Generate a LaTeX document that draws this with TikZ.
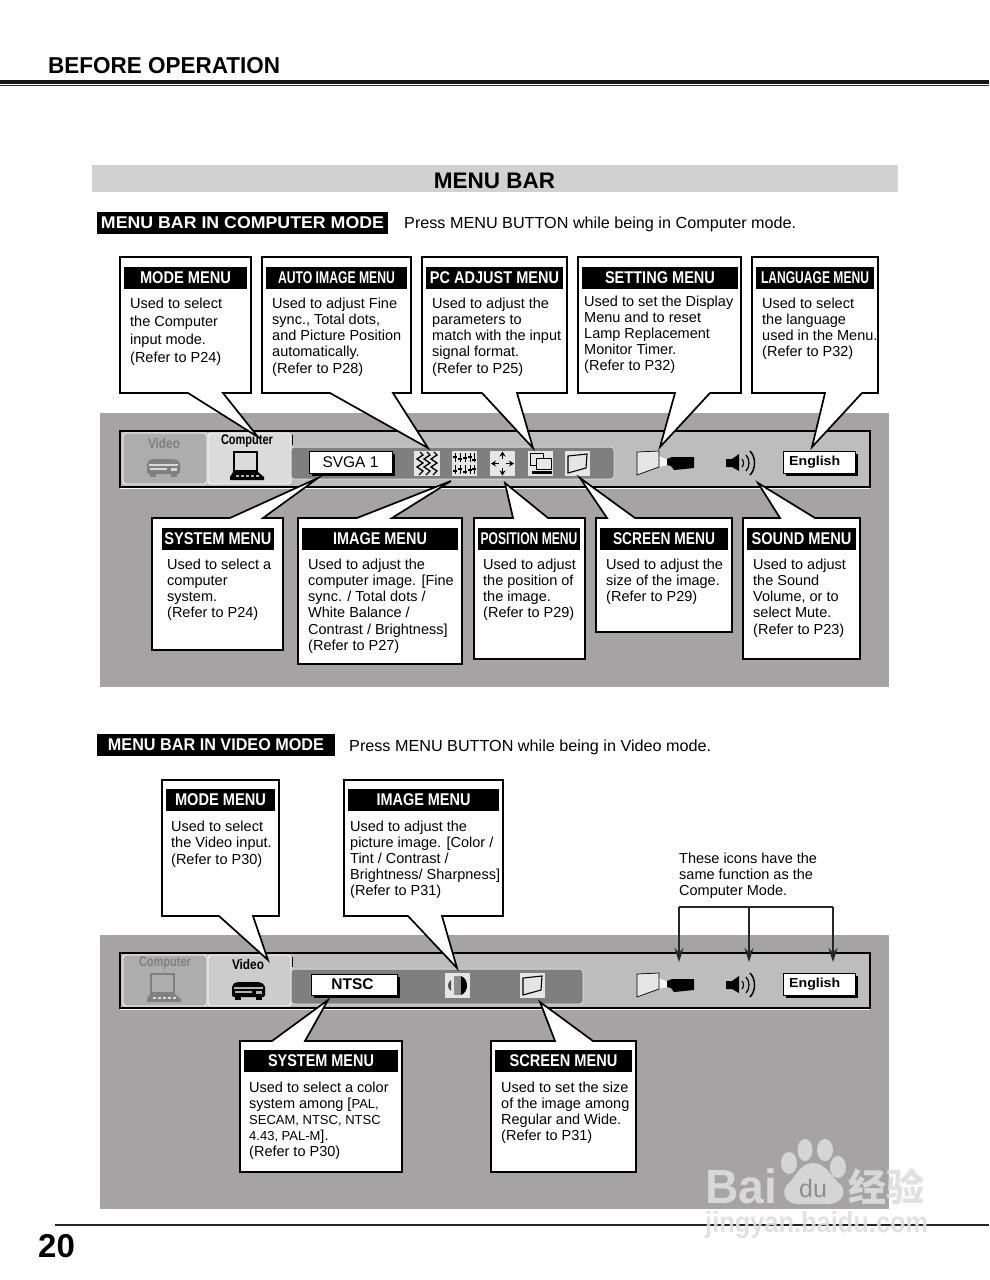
\documentclass[tikz,border=0pt]{standalone}
\usepackage{fontspec}
\usepackage{graphicx}
\setmainfont{Liberation Sans}
\newfontfamily\cjkfont{Noto Sans CJK SC}
\usetikzlibrary{arrows.meta}
\definecolor{panelgray}{HTML}{A5A3A4}
\definecolor{bargray}{HTML}{BDBDBD}
\definecolor{innergray}{HTML}{7F7F7F}
\definecolor{iconbg}{HTML}{E6E6E6}
\definecolor{wmark}{HTML}{DEDEDE}
\tikzset{
  callout/.style={draw=black,fill=white,line width=1.7pt,line join=miter},
  hdr/.style={fill=black,text=white,inner sep=0pt,font=\fontsize{17}{17}\selectfont\bfseries},
  bodytxt/.style={anchor=north west,inner sep=0pt,align=left},
  panel/.style={fill=panelgray,draw=none},
  menubar/.style={fill=bargray,draw=black,line width=1.2pt},
  ink/.style={draw=black,line width=1.1pt},
  tabtxt/.style={inner sep=0pt,font=\fontsize{14}{14}\selectfont\bfseries},
  fieldbox/.style={fill=white,draw=black,line width=.6pt,inner sep=0pt},
  note/.style={-{Stealth[length=14pt,width=9pt]},line width=1.4pt,draw=black!85},
  wm/.style={inner sep=0pt,text=wmark,text opacity=.9}
}
% box with a tail on its lower side
\newcommand{\calloutB}[8]{\draw[callout] (#1,#2)--(#3,#2)--(#3,#4)--(#6,#4)--(#7,#8)--(#5,#4)--(#1,#4)--cycle;}
% box with a tail on its upper side
\newcommand{\calloutT}[8]{\draw[callout] (#1,#2)--(#5,#2)--(#7,#8)--(#6,#2)--(#3,#2)--(#3,#4)--(#1,#4)--cycle;}
% header: name, x1, y1, x2, y2, text width, text
\newcommand{\hdrbar}[7]{\node[hdr,minimum width={(#4-#2)*1pt},minimum height={(#5-#3)*1pt}] (#1) at ({(#2+#4)/2},{(#3+#5)/2}) {\raisebox{-.8pt}{\resizebox{#6pt}{\height}{#7}}};}
% body: name, x, first baseline, line skip, text
\newcommand{\bodyblock}[5]{\node[bodytxt,font=\fontsize{14.5}{#4}\selectfont] (#1) at (#2,{#3-11}) {\rule{0pt}{11pt}#5};}
\newcommand{\smalltxt}[1]{{\fontsize{13}{16}\selectfont #1}}
% icons
\newcommand{\vcricon}[3]{\begin{scope}[shift={(#1,#2)}]
  \fill[#3,rounded corners=2pt] (0,3)--(4,0)--(28,0)--(33,3)--(33,15)--(0,15)--cycle;
  \fill[white!70!#3] (2,5) rectangle (31,6.5);
  \fill[white!70!#3] (3,9) rectangle (20,11);
  \fill[white!70!#3] (24,9) rectangle (30,12);
  \fill[#3] (3,15) rectangle (9,18); \fill[#3] (24,15) rectangle (30,18);
\end{scope}}
\newcommand{\monicon}[3]{\begin{scope}[shift={(#1,#2)}]
  \draw[#3,line width=2pt] (4,1) rectangle (27,20);
  \fill[#3] (3,21)--(28,21)--(34,26)--(34,29)--(0,29)--(0,26)--cycle;
  \foreach \k in {6,11,16,21,26} \fill[white!70!#3] (\k,24) rectangle +(3,1.5);
\end{scope}}
\newcommand{\projicon}[2]{\begin{scope}[shift={(#1,#2)}]
  \fill[white!85!bargray] (22,5)--(31,9)--(31,14)--(22,16)--cycle;
  \draw[fill=iconbg,draw=black,line width=.7pt] (0,1)--(22,0)--(22,16)--(0,24)--cycle;
  \fill[black] (30,8)--(35,6)--(57,6)--(57,17)--(37,19)--(34,15)--(30,14)--cycle;
\end{scope}}
\newcommand{\spkicon}[2]{\begin{scope}[shift={(#1,#2)}]
  \fill[black] (0,5)--(6,5)--(13,0)--(13,17)--(6,13)--(0,13)--cycle;
  \draw[black,line width=1.1pt] (16,5) .. controls (18,7) and (18,11) .. (16,13);
  \draw[black,line width=1.3pt] (20,1) .. controls (24,5) and (24,13) .. (20,17);
  \draw[black,line width=1.5pt] (24,-3) .. controls (30,3) and (30,15) .. (24,21);
\end{scope}}
\newcommand{\scrnicon}[2]{\begin{scope}[shift={(#1,#2)}]
  \fill[iconbg] (0,0) rectangle (25,25);
  \draw[ink,fill=white!90!black] (3,5)--(22,3)--(21,17)--(3,22)--cycle;
\end{scope}}
\newcommand{\engbox}[3]{%
  \fill[black] (783+3,#2+3) rectangle (855+3,#2+25);
  \node[fieldbox,minimum width=72pt,minimum height=22pt,anchor=north west] (#1) at (783,#2) {};
  \node[inner sep=0pt,font=\fontsize{13}{13}\selectfont\bfseries,anchor=west] (#3) at (789,#2+11) {\resizebox{51pt}{\height}{English}};
}
\begin{document}
\begin{tikzpicture}[x=1pt,y=-1pt]
\useasboundingbox (0,0) rectangle (989,1280);
\fill[white] (0,0) rectangle (989,1280);
% page head
\node[inner sep=0pt,anchor=base west,font=\fontsize{23}{23}\selectfont\bfseries] (title) at (48,73.5) {\resizebox{232pt}{\height}{BEFORE OPERATION}};
\fill[black!90] (0,79.5) rectangle (989,83.5);
\fill[black!80] (0,85) rectangle (989,86.2);
\fill[black!18] (92,165) rectangle (898,192);
\node[inner sep=0pt,font=\fontsize{22.5}{24}\selectfont\bfseries] (mbtitle) at (494.5,181) {MENU BAR};
\hdrbar{compbar}{97}{212}{388}{234}{283}{MENU BAR IN COMPUTER MODE}
\node[inner sep=0pt,anchor=base west,font=\fontsize{16}{16}\selectfont] (comppress) at (404,228.5) {\resizebox{392pt}{\height}{Press MENU BUTTON while being in Computer mode.}};
\hdrbar{vidbar}{97}{734}{335}{756}{216}{MENU BAR IN VIDEO MODE}
\node[inner sep=0pt,anchor=base west,font=\fontsize{16}{16}\selectfont] (vidpress) at (349,751) {\resizebox{362pt}{\height}{Press MENU BUTTON while being in Video mode.}};
% panels
\fill[panelgray] (100,413) rectangle (889,687);
\fill[panelgray] (100,935) rectangle (889,1209);
% ---- computer bar
\draw[menubar] (120,431) rectangle (870,487);
\draw[white,line width=1pt] (120,488.5)--(870,488.5);
\draw[white,line width=.8pt,rounded corners=3pt,fill=black!32] (123,433) rectangle (207,484);
\draw[white,line width=.8pt,rounded corners=3pt,fill=black!14] (208,433) rectangle (291,484);
\draw[black,line width=.8pt] (292,435)--(292,445);
\draw[white!85!black,line width=1pt,rounded corners=3pt,fill=innergray] (291,447) rectangle (614,479);
\node[tabtxt,text=black!50] (tv1) at (164,443) {\resizebox{32pt}{\height}{Video}};
\node[tabtxt] (tc1) at (247,441) {\resizebox{52pt}{\height}{Computer}};
\vcricon{147}{459}{black!50}
\monicon{230}{451}{black}
\fill[black] (312,454) rectangle (395,476);
\node[fieldbox,minimum width=83pt,minimum height=22pt] (svga) at (350.5,462) {\fontsize{15.5}{16}\selectfont SVGA 1};
% wave icon
\fill[iconbg] (414,451) rectangle (440,476);
\foreach \cx in {420,427,434}
  \draw[ink,line width=1.3pt] (\cx,452)--(\cx+3,455)--(\cx-3,459)--(\cx+3,463)--(\cx-3,467)--(\cx+3,471)--(\cx-1,475);
% slider icon
\fill[iconbg] (452,451) rectangle (477,476);
\foreach \cx/\da/\db in {455/3/5,460/5/3,465/4/6,470/3/4,474/6/3}{
  \draw[black,line width=.9pt] (\cx,453)--(\cx,462);
  \fill[black] (\cx-1.6,453+\da) rectangle +(3.2,2);
  \draw[black,line width=.9pt] (\cx,465)--(\cx,474);
  \fill[black] (\cx-1.6,465+\db) rectangle +(3.2,2);
}
% position icon
\fill[iconbg] (490,451) rectangle (515,476);
\draw[black,line width=1.5pt,{Stealth[length=5pt,width=6pt]}-] (491,463.5)--(499,463.5);
\draw[black,line width=1.5pt,-{Stealth[length=5pt,width=6pt]}] (506,463.5)--(514,463.5);
\draw[black,line width=1.5pt,{Stealth[length=5pt,width=6pt]}-] (502.5,451.5)--(502.5,459);
\draw[black,line width=1.5pt,-{Stealth[length=5pt,width=6pt]}] (502.5,468)--(502.5,475.5);
% setting window icon
\fill[iconbg] (528,451) rectangle (553,476);
\draw[black,line width=.8pt,fill=iconbg] (530,453) rectangle (543,465);
\draw[black,line width=.8pt,fill=iconbg] (536,458) rectangle (551,469);
\fill[black] (532,471) rectangle (552,473.5);
\scrnicon{565}{451}
\projicon{637}{451}
\spkicon{726}{454}
\engbox{eng1}{451}{engt1}
% ---- video bar
\draw[menubar] (120,953) rectangle (870,1008);
\draw[white,line width=1pt] (120,1009.5)--(870,1009.5);
\draw[white,line width=.8pt,rounded corners=3pt,fill=black!32] (123,955) rectangle (207,1006);
\draw[white,line width=.8pt,rounded corners=3pt,fill=black!20] (208,955) rectangle (291,1006);
\draw[black,line width=.8pt] (292,957)--(292,967);
\draw[white!85!black,line width=1pt,rounded corners=3pt,fill=innergray] (291,969) rectangle (583,1004);
\node[tabtxt,text=black!50] (tc2) at (165,963) {\resizebox{52pt}{\height}{Computer}};
\node[tabtxt] (tv2) at (248,964) {\resizebox{32pt}{\height}{Video}};
\monicon{147}{973}{black!50}
\vcricon{232}{982}{black}
\fill[black] (314,977) rectangle (400,998);
\node[fieldbox,minimum width=86pt,minimum height=21pt] (ntsc) at (354,984.5) {\hspace{-3pt}\fontsize{15.5}{16}\selectfont\bfseries NTSC};
% contrast icon
\fill[iconbg] (445,973) rectangle (470,998);
\fill[black!45] (454,976) rectangle (461,995);
\fill[black] (461,976)..controls (469,979) and (469,992)..(461,995)--cycle;
\fill[black!70] (451,980)..controls (447,983) and (447,988)..(451,991)--cycle;
\scrnicon{520}{973}
\projicon{637}{973}
\spkicon{726}{976}
\engbox{eng2}{973}{engt2}
% ---- computer-mode callouts
\calloutB{120}{257}{251}{393}{188}{223}{258}{437}
\hdrbar{hmode}{124}{267}{247}{289}{91}{MODE MENU}
\bodyblock{bmode}{130}{308}{18}{Used to select\\the  Computer\\input mode.\\(Refer to P24)}
\calloutB{262}{257}{411}{393}{330}{393}{428}{448}
\hdrbar{hauto}{266}{267}{407}{289}{117}{AUTO IMAGE MENU}
\bodyblock{bauto}{272}{308}{16.2}{Used to adjust Fine\\sync., Total dots,\\and Picture Position\\automatically.\\(Refer to P28)}
\calloutB{422}{257}{567}{393}{482}{517}{533}{448}
\hdrbar{hpc}{426}{267}{563}{289}{129}{PC ADJUST MENU}
\bodyblock{bpc}{432}{308}{16.2}{Used to adjust the\\parameters to\\match with the input\\signal format.\\(Refer to P25)}
\calloutB{578}{257}{741}{393}{675}{710}{660}{447}
\hdrbar{hset}{582}{267}{738}{289}{110}{SETTING MENU}
\bodyblock{bset}{584}{306}{16}{Used to set the Display\\Menu and to reset\\Lamp Replacement\\Monitor Timer.\\(Refer to P32)}
\calloutB{752}{257}{878}{393}{825}{862}{812}{447}
\hdrbar{hlang}{756}{267}{874}{289}{108}{LANGUAGE MENU}
\bodyblock{blang}{762}{308}{16.2}{Used to select\\the language\\used in the Menu.\\(Refer to P32)}
\calloutT{152}{518}{283}{650}{230}{263}{318}{478}
\hdrbar{hsys}{162}{528}{274}{550}{107}{SYSTEM MENU}
\bodyblock{bsys}{167}{569}{16.2}{Used to select a\\computer\\system.\\(Refer to P24)}
\calloutT{298}{518}{462}{664}{357}{392}{451}{481}
\hdrbar{himg}{302}{528}{458}{550}{94}{IMAGE MENU}
\bodyblock{bimg}{308}{569}{16.2}{Used to adjust  the\\computer image. [Fine\\sync. / Total dots /\\White Balance /\\Contrast / Brightness]\\(Refer to P27)}
\calloutT{474}{518}{585}{659}{513}{548}{505}{483}
\hdrbar{hpos}{478}{528}{580}{550}{97}{POSITION MENU}
\bodyblock{bpos}{483}{569}{16.2}{Used to adjust\\the position of\\the image.\\(Refer to P29)}
\calloutT{596}{518}{732}{632}{607}{635}{580}{478}
\hdrbar{hscr}{600}{528}{728}{550}{102}{SCREEN MENU}
\bodyblock{bscr}{606}{569}{16}{Used to adjust the\\size of the image.\\(Refer to P29)}
\calloutT{743}{518}{860}{659}{780}{815}{758}{483}
\hdrbar{hsnd}{747}{528}{856}{550}{100}{SOUND MENU}
\bodyblock{bsnd}{753}{569}{16.2}{Used to adjust\\the Sound\\Volume, or to\\select Mute.\\(Refer to P23)}
% ---- video-mode callouts
\calloutB{162}{780}{279}{916}{219}{253}{268}{960}
\hdrbar{hvmode}{166}{789}{275}{811}{91}{MODE MENU}
\bodyblock{bvmode}{171}{831}{16.5}{Used to select\\the Video input.\\(Refer to P30)}
\calloutB{344}{780}{503}{916}{408}{442}{457}{968}
\hdrbar{hvimg}{348}{789}{499}{811}{94}{IMAGE MENU}
\bodyblock{bvimg}{350}{831}{16}{Used to adjust the\\picture image.  [Color /\\Tint / Contrast /\\Brightness/ Sharpness]\\(Refer to P31)}
\calloutT{240}{1041}{402}{1172}{272}{305}{328}{1000}
\hdrbar{hvsys}{244}{1050}{398}{1072}{106}{SYSTEM MENU}
\bodyblock{bvsys}{249}{1092}{16}{Used to select a color\\system among [\smalltxt{PAL,}\\\smalltxt{SECAM, NTSC, NTSC}\\\smalltxt{4.43, PAL-M}].\\(Refer to P30)}
\calloutT{491}{1041}{636}{1172}{555}{593}{540}{1002}
\hdrbar{hvscr}{495}{1050}{632}{1072}{108}{SCREEN MENU}
\bodyblock{bvscr}{501}{1092}{16}{Used to set the size\\of the image among\\Regular and Wide.\\(Refer to P31)}
% note with arrows
\bodyblock{bnote}{679}{863}{16}{These icons have the\\same function as the\\Computer Mode.}
\coordinate (ntop1) at (679,907);
\coordinate (ntop2) at (749,907);
\coordinate (ntop3) at (833,907);
\coordinate (tip1) at (679,962);
\coordinate (tip2) at (749,962);
\coordinate (tip3) at (833,962);
\draw[line width=1.4pt,black!85] (ntop1)--(ntop3);
\draw[note] (ntop1)--(tip1);
\draw[note] (ntop2)--(tip2);
\draw[note] (ntop3)--(tip3);
% foot
\draw[black!85,line width=1.4pt] (55,1225)--(989,1225);
\node[inner sep=0pt,anchor=base west,font=\fontsize{33}{33}\selectfont\bfseries] (pageno) at (38,1257) {20};
% watermark
\begin{scope}[opacity=.85]
\node[wm,anchor=base west,font=\fontsize{48}{48}\selectfont\bfseries] (wmbai) at (705,1203) {\resizebox{72pt}{\height}{Bai}};
\fill[wmark] (813,1163)..controls (826,1163) and (832,1178)..(842,1186)..controls (848,1198) and (836,1205)..(825,1204)--(801,1204)..controls (790,1205) and (780,1198)..(786,1186)..controls (795,1178) and (800,1163)..(813,1163)--cycle;
\fill[wmark] (805,1150) ellipse [x radius=7.5,y radius=11];
\fill[wmark] (825,1150) ellipse [x radius=8,y radius=11];
\fill[wmark] (789,1163) ellipse [x radius=8,y radius=11];
\fill[wmark] (838,1167) ellipse [x radius=8,y radius=11];
\node[inner sep=0pt,text=black!50,font=\fontsize{25}{25}\selectfont] (wmdu) at (813,1189) {du};
\node[wm,anchor=base west,font=\fontsize{38}{38}\cjkfont\bfseries] (wmjy) at (848,1201) {经验};
\node[wm,anchor=base west,font=\fontsize{29}{29}\selectfont\bfseries] (wmurl) at (705,1232) {\resizebox{223pt}{\height}{jingyan.baidu.com}};
\end{scope}
\end{tikzpicture}
\end{document}
